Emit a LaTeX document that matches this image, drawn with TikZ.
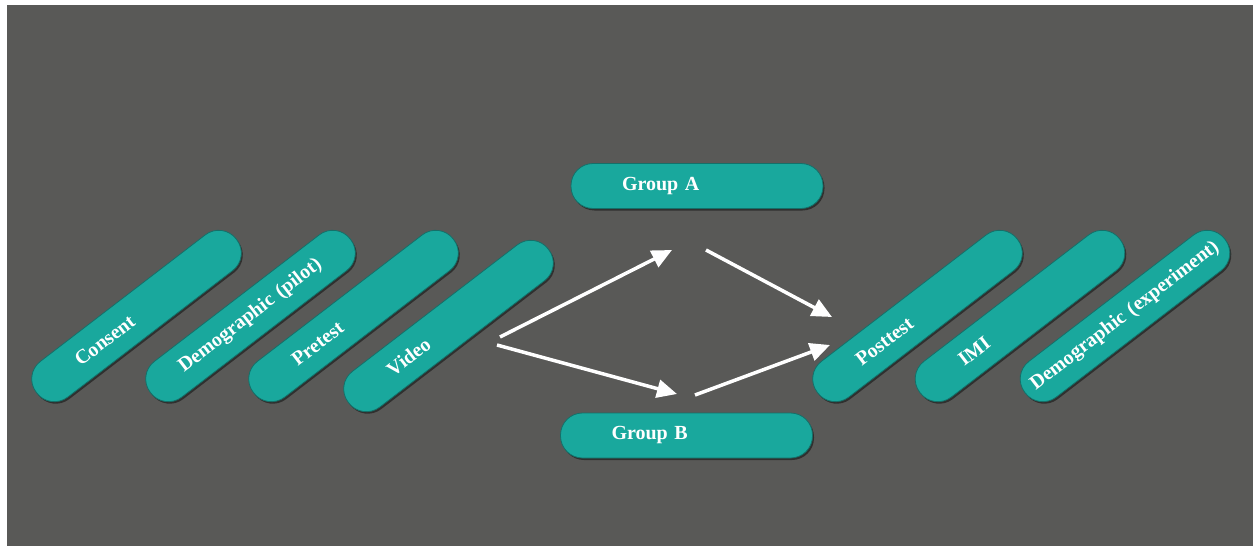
\documentclass[tikz,border=0pt]{standalone}
\usepackage{fontspec}
\setmainfont{Liberation Serif}
\usetikzlibrary{arrows.meta,shadows}

\definecolor{bgGray}{RGB}{89,89,87}
\definecolor{pillTeal}{RGB}{25,168,157}
\definecolor{pillEdge}{RGB}{20,112,105}

\begin{document}
\begin{tikzpicture}[x=1pt, y=-1pt,
  pill/.style={fill=pillTeal, draw=pillEdge, line width=0.8pt, rounded corners=22pt,
    minimum width=252pt, minimum height=45pt, inner sep=0pt, text width=150pt,
    align=left, text=white, font=\fontsize{20}{24}\selectfont\bfseries,
    drop shadow={shadow xshift=1.5pt, shadow yshift=-2pt, opacity=0.45, fill=black}},
  widepill/.style={pill, text width=236pt, align=center},
  flow/.style={white, line width=3.5pt, -{Triangle[length=20pt, width=18pt]}}]
\useasboundingbox (0,0) rectangle (1253,546);
\fill[white] (0,0) rectangle (1253,546);
\fill[bgGray] (7,5) rectangle (1253,546);

% steps before the split
\node[pill, rotate=37.5] (consent) at (136.5,316) {Consent};
\node[widepill, rotate=37.5] (demopilot) at (250.5,316) {Demographic (pilot)};
\node[pill, rotate=37.5] (pretest) at (353.5,316) {Pretest};
\node[pill, rotate=37.5] (video) at (448.5,326) {Video};

% the two groups
\node[pill] (groupA) at (697,186) {Group A};
\node[pill] (groupB) at (686.5,435.5) {Group B};

% steps after the split
\node[pill, rotate=37.5] (posttest) at (917.5,316) {Posttest};
\node[pill, rotate=37.5] (imi) at (1020,316) {IMI};
\node[widepill, rotate=37.5] (demoexp) at (1125,316) {Demographic (experiment)};

\coordinate (splitA) at (500,337);
\coordinate (splitB) at (497,345);
\coordinate (gapA) at (672,250);
\coordinate (gapB) at (677,394);
\coordinate (leaveA) at (706,250);
\coordinate (leaveB) at (695,395);
\coordinate (joinA) at (832,317);
\coordinate (joinB) at (830,345);

\draw[flow] (splitA) -- (gapA);
\draw[flow] (splitB) -- (gapB);
\draw[flow] (leaveA) -- (joinA);
\draw[flow] (leaveB) -- (joinB);
\end{tikzpicture}
\end{document}
